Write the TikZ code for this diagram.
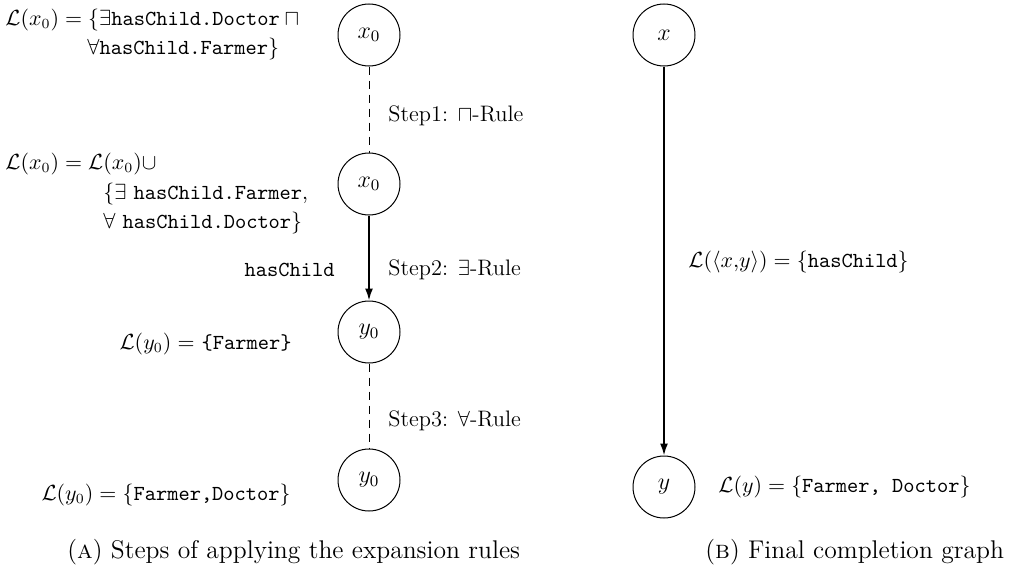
\documentclass[tikz,border=0pt]{standalone}
\usetikzlibrary{arrows.meta}
\begin{document}
\begin{tikzpicture}[x=0.5pt,y=-0.5pt,
  vnode/.style={circle,draw,line width=0.5pt,minimum size=31pt,inner sep=0pt,font=\fontsize{11.5}{13}\selectfont},
  lbl/.style={inner sep=0pt,font=\fontsize{10.7}{12}\selectfont},
  steplbl/.style={inner sep=0pt,anchor=west,font=\fontsize{11.2}{13}\selectfont},
  captext/.style={inner sep=0pt,font=\fontsize{12.8}{15}\selectfont},
  dashedge/.style={line width=0.5pt,dash pattern=on 4pt off 3pt},
  arr/.style={-{Latex[length=6pt,width=4pt]},line width=0.9pt}]
\useasboundingbox (0,0) rectangle (1012,578);
% left column
\node[vnode] (a1) at (369,35) {$x_0$};
\node[vnode] (a2) at (369,184) {$x_0$};
\node[vnode] (a3) at (369,332) {$y_0$};
\node[vnode] (a4) at (369,480) {$y_0$};
\draw[dashedge] (a1) -- (a2);
\draw[arr] (a2) -- (a3);
\draw[dashedge] (a3) -- (a4);
% labels
\node[lbl,anchor=west] (l1a) at (5,20) {$\mathcal{L}(x_0) = \{\exists\texttt{hasChild.Doctor}\sqcap{}$};
\node[lbl,anchor=west] (l1b) at (87,49) {$\forall\texttt{hasChild.Farmer}\}$};
\node[steplbl] (s1) at (388,116) {Step1: $\sqcap$-Rule};
\node[lbl,anchor=west] (l2a) at (5,164) {$\mathcal{L}(x_0) = \mathcal{L}(x_0)\cup$};
\node[lbl,anchor=west] (l2b) at (103,194) {$\{\exists$ \texttt{hasChild.Farmer},};
\node[lbl,anchor=west] (l2c) at (103,223) {$\forall$ \texttt{hasChild.Doctor}$\}$};
\node[lbl,anchor=east] (hc) at (335,270) {\texttt{hasChild}};
\node[steplbl] (s2) at (388,270) {Step2: $\exists$-Rule};
\node[lbl,anchor=east] (l3) at (292,344) {$\mathcal{L}(y_0) =$ \texttt{\{Farmer\}}};
\node[steplbl] (s3) at (388,421) {Step3: $\forall$-Rule};
\node[lbl,anchor=east] (l4) at (291,495) {$\mathcal{L}(y_0) = \{\texttt{Farmer,Doctor}\}$};
\node[captext,anchor=west] (capa) at (67,552) {(\textsc{a}) Steps of applying the expansion rules};
% right column
\node[vnode] (b1) at (664,35) {$x$};
\node[vnode] (b2) at (664,487) {$y$};
\draw[arr] (b1) -- (b2);
\node[lbl,anchor=west] (l5) at (688,262) {$\mathcal{L}(\langle x{,}y\rangle) = \{\texttt{hasChild}\}$};
\node[lbl,anchor=west] (l6) at (718,487) {$\mathcal{L}(y) = \{\texttt{Farmer, Doctor}\}$};
\node[captext,anchor=west] (capb) at (705,552) {(\textsc{b}) Final completion graph};
\end{tikzpicture}
\end{document}
